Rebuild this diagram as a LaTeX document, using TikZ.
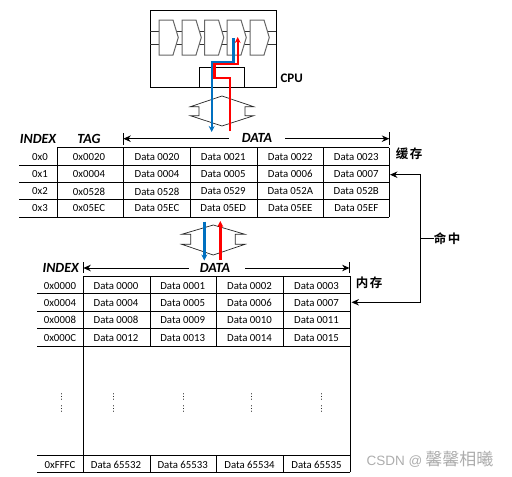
\documentclass[tikz,border=0pt]{standalone}
\usepackage{fontspec}
\setmainfont{Carlito}
\newfontfamily\cjk{Noto Sans CJK SC}[BoldFont=* Bold]
\newfontfamily\wmfont{Liberation Sans}
\newfontfamily\dotfont{DejaVu Sans}
\usetikzlibrary{positioning,calc,arrows.meta}
\definecolor{busblue}{HTML}{0070C0}
\definecolor{stagegray}{HTML}{666666}

\begin{document}
\begin{tikzpicture}[
    x=1pt, y=-1pt,
    cell/.style={inner sep=0pt, font=\fontsize{10.8}{12}\selectfont},
    head/.style={inner sep=0pt, font=\fontsize{14}{15}\selectfont\bfseries\itshape},
    zh/.style={inner sep=0pt, font=\fontsize{12.5}{14}\selectfont\cjk\bfseries},
    vdot/.style={inner sep=0pt, font=\fontsize{8}{8}\selectfont\dotfont},
    grid/.style={line width=0.9pt},
    stage/.style={draw=stagegray, fill=white, line width=1pt},
    bus/.style={draw=black!85, line width=0.7pt},
    arrow/.style={-{Stealth[length=7.5pt,width=6.5pt]}, line width=0.9pt},
    blueflow/.style={-{Stealth[length=6pt,width=6pt]}, draw=busblue, line width=2.4pt},
    redflow/.style={-{Stealth[length=6pt,width=6pt]}, draw=red, line width=2.4pt}
]
\useasboundingbox (0,0) rectangle (512,477);

% CPU
\draw[line width=0.9pt] (150.3,10) rectangle (276,87);
\draw[line width=0.7pt, black!80] (150.3,31) -- (276,31);
\draw[line width=0.7pt, black!80] (150.3,44) -- (276,44);
\foreach \sx in {159,182,204.5,227,250}
    \draw[stage] (\sx,20) -- ++(14,0) -- ++(5.3,17.5) -- ++(-5.3,17.5) -- ++(-14,0) -- cycle;
\draw[line width=0.9pt] (199.3,87) -- (199.3,67.3) -- (244.7,67.3) -- (244.7,87);
\node[inner sep=0pt, font=\fontsize{13}{14}\selectfont\bfseries] (cpu) at (291.7,78) {CPU};

% buses
\draw[bus] (222,96) -- (253.7,106.7) -- (245,106.7) -- (245,115.7) -- (253.7,115.7) -- (222,126)
    -- (190.4,115.7) -- (199,115.7) -- (199,106.7) -- (190.4,106.7) -- cycle;
\draw[bus] (213.3,225) -- (245,234.3) -- (235.3,234.3) -- (235.3,244.3) -- (245,244.3) -- (213.3,255)
    -- (181.7,244.3) -- (190.7,244.3) -- (190.7,234.3) -- (181.7,234.3) -- cycle;

% flows
\coordinate (blue0) at (233.3,38);
\coordinate (blue1) at (211.7,132);
\coordinate (red0) at (230,131);
\coordinate (red1) at (237.7,37);
\draw[blueflow] (blue0) |- (211.7,62) -- (blue1);
\draw[redflow] (red0) |- (214.3,78) |- (237.7,64) -- (red1);
\coordinate (blue2) at (204.3,221.7);
\coordinate (blue3) at (204.3,260.5);
\coordinate (red2) at (220.3,260);
\coordinate (red3) at (220.3,221);
\draw[blueflow] (blue2) -- (blue3);
\draw[redflow] (red2) -- (red3);

% cache header
\node[head] (cacheindex) at (38,138.5) {INDEX};
\node[head] (cachetag) at (89,138.5) {TAG};
\node[head] (cachedata) at (257,138) {DATA};
\draw[line width=0.7pt] (123.3,133) -- (123.3,144.5);
\draw[line width=0.7pt] (389.3,132) -- (389.3,145);
\coordinate (cacheleft) at (123.3,138.7);
\coordinate (cacheright) at (389.3,138.7);
\draw[arrow] (229,138.7) -- (cacheleft);
\draw[arrow] (285,138.7) -- (cacheright);

% cache table
\draw[grid] (57.3,147.7) -- (389.3,147.7);
\foreach \ly in {165.3,182.3,199.7,217.3}
    \draw[grid] (19,\ly) -- (389.3,\ly);
\foreach \lx in {57.3,123.3,190.5,257,323.3,389.3}
    \draw[grid] (\lx,147.7) -- (\lx,217.3);
\foreach \ry/\rid/\idx/\tagv/\da/\db/\dc/\dd in {
    157/0/0x0/0x0020/0020/0021/0022/0023,
    174/1/0x1/0x0004/0004/0005/0006/0007,
    191.5/2/0x2/0x0528/0528/0529/052A/052B,
    208.5/3/0x3/0x05EC/05EC/05ED/05EE/05EF}{
    \node[cell] (ci\rid) at (40,\ry) {\idx};
    \node[cell] (ct\rid) at (89,\ry) {\tagv};
    \node[cell] (ca\rid) at (157,\ry) {Data \da};
    \node[cell] (cb\rid) at (223.3,\ry) {Data \db};
    \node[cell] (cc\rid) at (290.3,\ry) {Data \dc};
    \node[cell] (cd\rid) at (356.3,\ry) {Data \dd};
}
\node[zh] (cachelabel) at (409,154) {缓\hspace{1.5pt}存};

% memory header
\node[head] (memindex) at (60.7,267.5) {INDEX};
\node[head] (memdata) at (215,267.5) {DATA};
\draw[line width=0.7pt] (83.3,262) -- (83.3,273);
\draw[line width=0.7pt] (349.6,262) -- (349.6,273);
\coordinate (memleft) at (83.3,268);
\coordinate (memright) at (349.6,268);
\draw[arrow] (188.7,268) -- (memleft);
\draw[arrow] (245,268) -- (memright);

% memory table
\draw[grid] (83.3,276) -- (350.3,276);
\foreach \ly in {293.3,311.3,328.7,346.3,455,472}
    \draw[grid] (37,\ly) -- (350.3,\ly);
\foreach \lx in {83.3,350.3}
    \draw[grid] (\lx,276) -- (\lx,472);
\foreach \lx in {150.3,216.7,283.3}{
    \draw[grid] (\lx,276) -- (\lx,346.3);
    \draw[grid] (\lx,455) -- (\lx,472);
}
\foreach \ry/\rid/\idx/\da/\db/\dc/\dd in {
    285.7/0/0x0000/0000/0001/0002/0003,
    303.3/1/0x0004/0004/0005/0006/0007,
    320/2/0x0008/0008/0009/0010/0011,
    337.7/3/0x000C/0012/0013/0014/0015,
    464.7/4/0xFFFC/65532/65533/65534/65535}{
    \node[cell] (mi\rid) at (60,\ry) {\idx};
    \node[cell] (ma\rid) at (116,\ry) {Data \da};
    \node[cell] (mb\rid) at (182.7,\ry) {Data \db};
    \node[cell] (mc\rid) at (249.5,\ry) {Data \dc};
    \node[cell] (md\rid) at (316.5,\ry) {Data \dd};
}
\foreach \dx/\did in {61.7/0,113.7/1,183.7/2,251.7/3,321.7/4}{
    \node[vdot] (dotsa\did) at (\dx,396.7) {⋮};
    \node[vdot] (dotsb\did) at (\dx,409) {⋮};
}
\node[zh] (memlabel) at (369,283) {内\hspace{1.5pt}存};

% hit
\node[zh] (hit) at (447,238.3) {命\hspace{1.5pt}中};
\coordinate (hitjoin) at (420.7,238.3);
\coordinate (hitcache) at (390,174.7);
\coordinate (hitmem) at (351.5,302.3);
\draw[line width=0.9pt] (hit) -- (hitjoin);
\draw[arrow] (hitjoin) |- (hitcache);
\draw[arrow] (hitjoin) |- (hitmem);

% watermark
\node[anchor=west, inner sep=0pt, text=black!32, font=\fontsize{13.5}{15}\wmfont] (mark) at (366.5,459.5) {CSDN @\hspace{3pt}{\fontsize{17}{18}\cjk 馨馨相曦}};
\end{tikzpicture}
\end{document}
